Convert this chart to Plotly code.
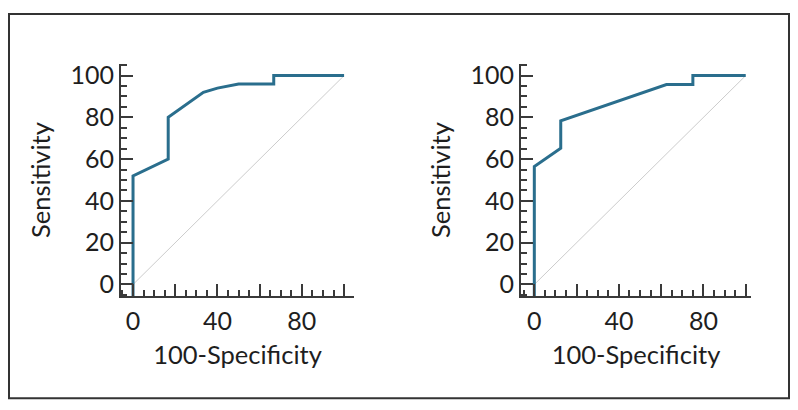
import plotly.graph_objects as go

# ROC curve data (100-Specificity, Sensitivity)
left_fpr = [0, 0, 0, 16.67, 16.67, 33.33, 40, 50, 66.67, 66.67, 100]
left_sens = [-5.5, 0, 52, 60, 80, 92, 94, 96, 96, 100, 100]

right_fpr = [0, 0, 0, 12.5, 12.5, 62.5, 75, 75, 100]
right_sens = [-5.5, 0, 56.5, 65.2, 78.3, 95.7, 95.7, 100, 100]

diag = [0, 100]

x_tickvals = [0, 20, 40, 60, 80, 100]
x_ticktext = ["0", "", "40", "", "80", ""]
y_tickvals = [0, 20, 40, 60, 80, 100]
y_ticktext = ["0", "20", "40", "60", "80", "100"]

x_title = "100-Specificity"
y_title = "Sensitivity"

BLUE = "#2a6e8d"
AXC = "#3a3a3a"
FONT = "Lato"
TXT = "#1e1e1e"

fig = go.Figure()
for i, (fx, sy) in enumerate([(left_fpr, left_sens), (right_fpr, right_sens)]):
    xa = "x" if i == 0 else "x2"
    ya = "y" if i == 0 else "y2"
    fig.add_trace(go.Scatter(x=diag, y=diag, mode="lines", xaxis=xa, yaxis=ya,
                             line=dict(color="#cccccc", width=1), showlegend=False, hoverinfo="skip"))
    fig.add_trace(go.Scatter(x=fx, y=sy, mode="lines", xaxis=xa, yaxis=ya,
                             line=dict(color=BLUE, width=3), showlegend=False))

# page body has an 8px margin; figure sized to fit the window
OFF = 8
W, H = 790, 402
ytop, ybot = 60 - OFF, 296 - OFF
ydom = [1 - ybot / H, 1 - ytop / H]
YR = [-5.5, 105.5]

def xaxis_cfg(x0, x1, rng):
    return dict(domain=[(x0 - OFF) / W, (x1 - OFF) / W], range=rng, showgrid=False, zeroline=False,
                showline=True, linecolor=AXC, linewidth=2,
                ticks="inside", ticklen=12, tickwidth=2, tickcolor=AXC,
                tickvals=x_tickvals, ticktext=x_ticktext,
                minor=dict(dtick=5, ticks="inside", ticklen=6, tickwidth=1.5, tickcolor=AXC, showgrid=False),
                tickfont=dict(family=FONT, size=25, color=TXT), ticklabelstandoff=2,
                title=dict(text=x_title, font=dict(family=FONT, size=25.5, color=TXT), standoff=12),
                fixedrange=True)

def yaxis_cfg(anchor):
    return dict(domain=ydom, range=YR, anchor=anchor, showgrid=False, zeroline=False,
                showline=True, linecolor=AXC, linewidth=2,
                ticks="inside", ticklen=12, tickwidth=2, tickcolor=AXC,
                tickvals=y_tickvals, ticktext=y_ticktext,
                minor=dict(dtick=5, ticks="inside", ticklen=6, tickwidth=1.5, tickcolor=AXC, showgrid=False),
                tickfont=dict(family=FONT, size=25, color=TXT),
                title=dict(text=y_title, font=dict(family=FONT, size=25.5, color=TXT), standoff=13),
                fixedrange=True)

fig.update_layout(
    width=W, height=H,
    margin=dict(l=0, r=0, t=0, b=0),
    paper_bgcolor="white", plot_bgcolor="white",
    xaxis=dict(anchor="y", **xaxis_cfg(121, 354, [-5.7, 104.7])),
    yaxis=yaxis_cfg("x"),
    xaxis2=dict(anchor="y2", **xaxis_cfg(521, 751, [-6.3, 102.5])),
    yaxis2=yaxis_cfg("x2"),
    shapes=[dict(type="rect", xref="paper", yref="paper",
                 x0=(9 - OFF) / W, x1=(789 - OFF) / W, y0=1 - (400 - OFF) / H, y1=1 - (9 - OFF) / H,
                 line=dict(color="#333", width=2))],
)

fig.write_html("out.html")
